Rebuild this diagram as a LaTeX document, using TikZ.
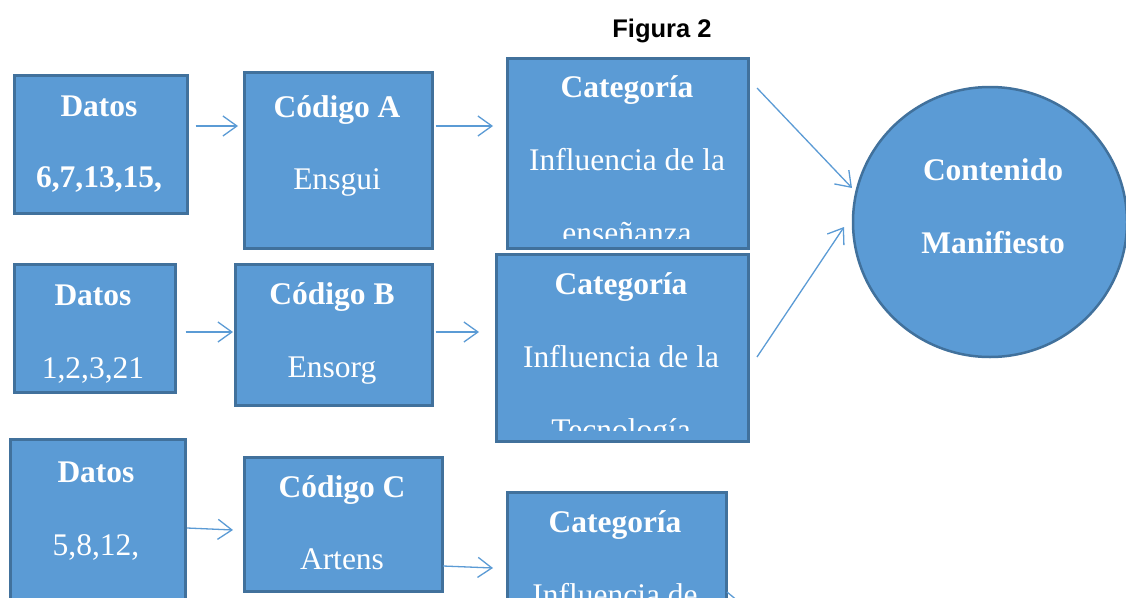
\documentclass[tikz,border=0pt]{standalone}
\usepackage{fontspec}
\setmainfont{Liberation Serif}
\newfontfamily\titlefont{Liberation Sans}
\usetikzlibrary{arrows.meta,shapes.geometric,calc}
\definecolor{boxfill}{HTML}{5B9BD5}
\definecolor{boxline}{HTML}{41719C}
\begin{document}
\begin{tikzpicture}[x=1pt,y=-1pt,
  box/.style={draw=boxline, fill=boxfill, line width=2.5pt, inner sep=0pt, anchor=north west},
  txt/.style={text=white, font=\fontsize{31.5}{36}\selectfont, anchor=base, inner sep=0pt},
  arr/.style={draw=boxfill, line width=1.3pt, -{Straight Barb[length=14pt,width=20pt,line width=1.3pt]}}]
\clip (0,0) rectangle (1126,597);
\fill[white] (0,0) rectangle (1126,597);

% title
\node[anchor=base, inner sep=0pt, font=\titlefont\bfseries\fontsize{25.5}{30}\selectfont] (title) at (662,37) {Figura 2};

% boxes
\node[box, minimum width=173pt, minimum height=138pt] (d1) at (13,74) {};
\node[box, minimum width=188pt, minimum height=176pt] (ca) at (243,71) {};
\node[box, minimum width=241pt, minimum height=190pt] (k1) at (506,57) {};
\node[box, minimum width=161pt, minimum height=128pt] (d2) at (13,263) {};
\node[box, minimum width=197pt, minimum height=141pt] (cb) at (234,263) {};
\node[box, minimum width=252pt, minimum height=187pt] (k2) at (495,253) {};
\node[box, minimum width=175pt, minimum height=200pt] (d3) at (9,438) {};
\node[box, minimum width=198pt, minimum height=134pt] (cc) at (243,456) {};
\node[box, minimum width=219pt, minimum height=150pt] (k3) at (506,491) {};
\node[ellipse, draw=boxline, fill=boxfill, line width=2.5pt, inner sep=0pt,
      minimum width=274pt, minimum height=270pt] (cm) at (990,222) {};

% texts row 1
\node[txt] (d1a) at (99,116) {\bfseries Datos};
\node[txt] (d1b) at (99,187) {\bfseries 6,7,13,15,};
\node[txt] (caa) at (337,117) {\bfseries Código A};
\node[txt] (cab) at (337,189) {Ensgui};
\node[txt] (k1a) at (627,97) {\bfseries Categoría};
\node[txt] (k1b) at (627,170) {Influencia de la};
\begin{scope}
  \clip (506,57) rectangle (747,238);
  \node[txt] (k1c) at (627,243) {enseñanza};
\end{scope}

% texts row 2
\node[txt] (d2a) at (93,305) {\bfseries Datos};
\node[txt] (d2b) at (93,378) {1,2,3,21};
\node[txt] (cba) at (332,304) {\bfseries Código B};
\node[txt] (cbb) at (332,377) {Ensorg};
\node[txt] (k2a) at (621,294) {\bfseries Categoría};
\node[txt] (k2b) at (621,367) {Influencia de la};
\begin{scope}
  \clip (495,253) rectangle (747,430);
  \node[txt] (k2c) at (621,440) {Tecnología};
\end{scope}

% texts row 3
\node[txt] (d3a) at (96,482) {\bfseries Datos};
\node[txt] (d3b) at (96,555) {5,8,12,};
\node[txt] (cca) at (342,497) {\bfseries Código C};
\node[txt] (ccb) at (342,569) {Artens};
\node[txt] (k3a) at (615,532) {\bfseries Categoría};
\node[txt] (k3b) at (615,605) {Influencia de};

% circle text
\node[txt] (cma) at (993,180) {\bfseries Contenido};
\node[txt] (cmb) at (993,253) {\bfseries Manifiesto};

% connectors
\coordinate (r1) at (0,126);
\coordinate (r2) at (0,332);
\draw[arr, shorten <=7pt, shorten >=5pt] (d1.east |- r1) -- (ca.west |- r1);
\draw[arr, shorten <=2pt, shorten >=13pt] (ca.east |- r1) -- (k1.west |- r1);
\draw[arr, shorten <=9pt, shorten >=1pt] (d2.east |- r2) -- (cb.west |- r2);
\draw[arr, shorten <=2pt, shorten >=16pt] (cb.east |- r2) -- (k2.west |- r2);

\coordinate (s3a) at (187,528);
\coordinate (t3a) at (233,530);
\coordinate (s3b) at (443,566);
\coordinate (t3b) at (493,568);
\coordinate (s1c) at (757,88);
\coordinate (t1c) at (852,188);
\coordinate (s2c) at (757,357);
\coordinate (t2c) at (844,227);
\coordinate (s3c) at (727,592);
\coordinate (t3c) at (767,625);
\draw[arr] (s3a) -- (t3a);
\draw[arr] (s3b) -- (t3b);
\draw[arr] (s1c) -- (t1c);
\draw[arr] (s2c) -- (t2c);
\draw[arr] (s3c) -- (t3c);
\end{tikzpicture}
\end{document}
